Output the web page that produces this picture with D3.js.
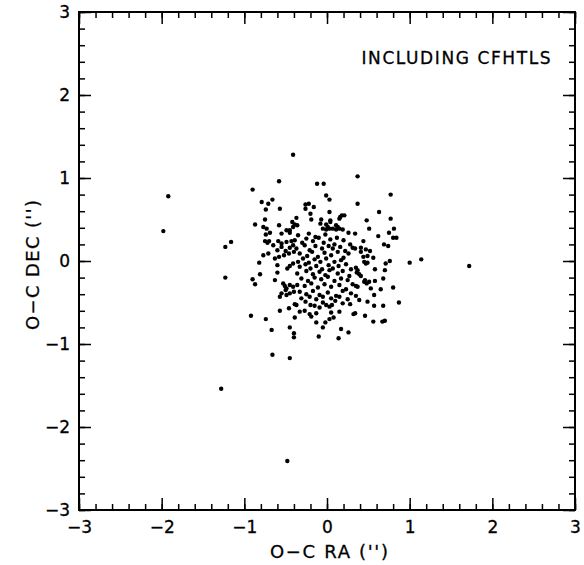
<!DOCTYPE html>
<html><head><meta charset="utf-8">
<script src="https://cdn.jsdelivr.net/npm/d3@7"></script>
<style>body{margin:0;background:#fff}</style>
</head><body>
<svg id="c" width="584" height="565"></svg>
<script>
const xTicks = [-3,-2,-1,0,1,2,3];
const yTicks = [-3,-2,-1,0,1,2,3];
const xLabel = "O\u2212C RA ('')";
const yLabel = "O\u2212C DEC ('')";
const note = "INCLUDING CFHTLS";

// O-C residuals in RA (arcsec)
const ra = [
-0.58,-0.90,-0.79,-0.71,-0.66,-0.74,-0.57,-0.75,-0.87,-0.77,-0.73,-0.58,-0.42,-0.49,-0.45,-0.41,-0.39,
-0.12,-0.04,-0.01,0.03,-0.26,-0.22,-0.26,-0.16,-0.20,0.03,-0.37,-0.36,-0.19,-0.07,-0.08,0.04,0.04,0.16,0.18,0.21,0.15,-0.01,0.01,0.11,0.13,-0.05,-0.01,0.03,0.07,0.11,0.15,0.19,
0.37,0.77,0.37,0.63,0.48,0.77,0.51,0.81,
-0.74,-0.69,-0.55,-0.45,-0.75,-0.72,-0.70,-0.65,-0.59,-0.55,-0.49,-0.43,-0.39,-0.60,-0.55,-0.50,-0.45,-0.41,-0.77,-0.71,-0.63,-0.58,-0.52,-0.46,-0.40,-0.82,-0.60,-0.48,-0.45,-0.41,-0.81,-0.60,-0.90,-0.87,-0.63,-0.53,-0.51,-0.49,-0.45,-0.41,-0.55,-0.45,-0.40,-0.50,-0.57,-0.49,
-0.35,-0.22,-0.14,-0.02,0.12,0.26,0.34,-0.30,-0.25,-0.17,-0.10,-0.04,0.04,0.09,0.20,0.28,-0.37,-0.27,-0.21,-0.14,-0.06,0.02,0.07,0.16,0.22,0.31,
-0.33,-0.24,-0.18,-0.11,-0.03,0.05,0.13,0.20,0.26,-0.35,-0.29,-0.22,-0.15,-0.08,-0.01,0.09,0.17,
-0.33,-0.26,-0.20,-0.13,-0.06,0.02,0.07,0.14,0.23,0.29,-0.36,-0.25,-0.17,-0.09,-0.02,0.03,0.13,0.19,0.27,
-0.31,-0.23,-0.15,-0.07,0.01,0.09,0.17,0.25,-0.36,-0.27,-0.19,-0.11,-0.03,0.05,0.15,0.23,0.31,
-0.33,-0.25,-0.17,-0.09,0.01,0.11,0.19,0.29,-0.31,-0.21,-0.13,-0.05,0.05,0.15,0.25,
0.75,0.62,0.80,0.84,0.44,0.69,0.74,0.34,0.41,0.47,0.52,0.41,0.44,0.49,0.56,0.45,0.47,0.49,0.76,0.71,1.00,0.35,0.37,0.36,0.39,0.41,0.58,0.70,0.68,0.45,0.48,0.51,0.46,0.58,0.35,0.37,0.53,0.65,0.80,0.35,0.57,
-0.92,-0.74,-0.57,-0.46,-0.39,-0.39,-0.67,-0.45,-0.40,-0.40,-0.66,-0.45,
-0.37,-0.26,-0.20,-0.15,-0.09,-0.05,-0.01,0.03,0.06,0.10,0.19,0.28,-0.33,-0.27,-0.21,-0.19,-0.13,0.05,0.15,0.32,0.03,0.08,-0.02,-0.13,-0.05,0.17,0.26,-0.10,0.14,
0.39,0.49,0.57,0.68,0.87,0.34,0.46,0.56,0.67,0.70,
-1.16,-1.23,-1.23,1.14,1.72,
-1.98,-1.92,-1.28,-0.48,-0.41
];
// O-C residuals in DEC (arcsec)
const dec = [
0.96,0.86,0.71,0.69,0.74,0.62,0.63,0.50,0.44,0.41,0.39,0.43,0.47,0.37,0.37,0.41,0.44,
0.93,0.93,0.79,0.74,0.68,0.69,0.63,0.65,0.57,0.59,0.52,0.43,0.50,0.50,0.45,0.49,0.47,0.53,0.55,0.55,0.51,0.44,0.41,0.43,0.41,0.39,0.38,0.39,0.39,0.38,0.39,0.38,
1.02,0.80,0.69,0.59,0.49,0.51,0.39,0.39,
0.32,0.34,0.33,0.34,0.24,0.22,0.24,0.19,0.24,0.21,0.23,0.24,0.25,0.13,0.17,0.12,0.16,0.19,0.07,0.09,0.03,0.05,0.07,0.09,0.11,-0.02,-0.05,-0.09,-0.06,-0.03,-0.16,-0.14,-0.22,-0.28,-0.23,-0.27,-0.30,-0.33,-0.29,-0.31,-0.39,-0.39,-0.37,-0.35,-0.43,-0.41,
0.31,0.33,0.29,0.32,0.28,0.34,0.33,0.22,0.27,0.24,0.28,0.22,0.26,0.20,0.25,0.20,0.15,0.19,0.13,0.18,0.15,0.18,0.15,0.17,0.12,0.16,
0.09,0.06,0.11,0.05,0.10,0.07,0.11,0.04,0.09,-0.01,0.03,-0.02,0.02,-0.01,0.03,-0.01,0.01,
-0.07,-0.04,-0.09,-0.06,-0.10,-0.05,-0.09,-0.06,-0.04,-0.10,-0.15,-0.12,-0.16,-0.13,-0.17,-0.11,-0.15,-0.12,-0.18,
-0.21,-0.24,-0.20,-0.22,-0.19,-0.24,-0.21,-0.23,-0.29,-0.30,-0.27,-0.32,-0.28,-0.31,-0.29,-0.34,-0.28,
-0.37,-0.40,-0.36,-0.41,-0.38,-0.42,-0.36,-0.39,-0.45,-0.43,-0.46,-0.43,-0.45,-0.43,-0.46,
0.34,0.30,0.28,0.28,0.24,0.20,0.18,0.15,0.16,0.14,0.12,0.11,0.05,0.06,0.04,-0.01,-0.03,-0.02,0.00,-0.03,-0.02,-0.08,-0.11,-0.14,-0.16,-0.18,-0.10,-0.11,-0.21,-0.25,-0.27,-0.25,-0.23,-0.24,-0.30,-0.31,-0.33,-0.34,-0.32,-0.42,-0.41,
-0.66,-0.70,-0.60,-0.57,-0.52,-0.68,-0.83,-0.80,-0.87,-0.92,-1.13,-1.17,
-0.53,-0.49,-0.53,-0.54,-0.56,-0.50,-0.53,-0.55,-0.53,-0.48,-0.51,-0.52,-0.61,-0.60,-0.64,-0.67,-0.63,-0.62,-0.61,-0.64,-0.70,-0.68,-0.74,-0.74,-0.80,-0.82,-0.86,-0.91,-0.93,
-0.47,-0.49,-0.54,-0.54,-0.50,-0.63,-0.66,-0.73,-0.73,-0.72,
0.23,0.17,-0.20,0.02,-0.06,
0.36,0.78,-1.54,-2.41,1.28
];

const svg = d3.select("#c");
const L = 79, R = 575, T = 12, B = 510;
const x = d3.scaleLinear().domain([-3,3]).range([L,R]);
const y = d3.scaleLinear().domain([-3,3]).range([B,T]);
const font = "'DejaVu Sans', 'Liberation Sans', sans-serif";

const pts = ra.map((d,i)=>[d, dec[i]]);
svg.append("g").selectAll("circle").data(pts).join("circle")
  .attr("cx", d=>x(d[0])).attr("cy", d=>y(d[1])).attr("r", 2.2).attr("fill","#000");

// axes with inward ticks on all four sides
const minor = d3.range(-3, 3.0001, 0.2).map(v=>+v.toFixed(1));
function addAxis(axisFn, scale, tr, majors, pad) {
  const gMin = svg.append("g").attr("transform", tr)
    .call(axisFn(scale).tickValues(minor).tickSize(-6).tickFormat(""));
  const gMaj = svg.append("g").attr("transform", tr)
    .call(axisFn(scale).tickValues(majors).tickSize(-12).tickPadding(pad)
      .tickFormat(pad>0 ? (d=> d<0 ? "\u2212"+Math.abs(d) : String(d)) : ""));
  [gMin,gMaj].forEach(g=>{
    g.select(".domain").remove();
    g.selectAll("line").attr("stroke","#000").attr("stroke-width",1.5);
    g.selectAll("text").attr("font-family",font).attr("font-size",17).attr("fill","#000")
      .attr("stroke","#000").attr("stroke-width",0.3);
  });
  return gMaj;
}
addAxis(d3.axisBottom, x, `translate(0,${B})`, xTicks, 11);
addAxis(d3.axisTop, x, `translate(0,${T})`, xTicks, 0);
addAxis(d3.axisLeft, y, `translate(${L},0)`, yTicks, 9);
addAxis(d3.axisRight, y, `translate(${R},0)`, yTicks, 0);

svg.append("rect").attr("x",L).attr("y",T).attr("width",R-L).attr("height",B-T)
  .attr("fill","none").attr("stroke","#000").attr("stroke-width",2);

function label(sel){ return sel.attr("font-family",font).attr("fill","#000").attr("stroke","#000").attr("stroke-width",0.3); }
label(svg.append("text").attr("x",456).attr("y",64).attr("text-anchor","middle")
  .attr("font-size",17).attr("textLength",189).text(note));
label(svg.append("text").attr("x",329).attr("y",558).attr("text-anchor","middle")
  .attr("font-size",18).attr("textLength",118).text(xLabel));
label(svg.append("text").attr("transform","translate(39,265) rotate(-90)").attr("text-anchor","middle")
  .attr("font-size",18).attr("textLength",130).text(yLabel));
</script>
</body></html>
